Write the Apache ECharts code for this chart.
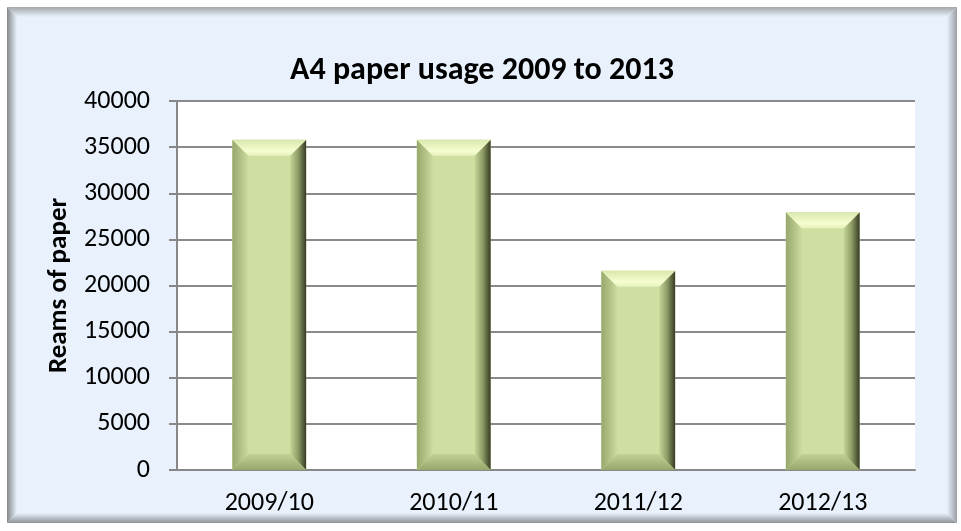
<!DOCTYPE html>
<html>
<head>
<meta charset="utf-8">
<script src="https://cdn.jsdelivr.net/npm/echarts@6/dist/echarts.min.js"></script>
<style>
    html, body { margin: 0; padding: 0; background: #fff; }
    #paper_chart { width: 961px; height: 531px; }
</style>
</head>
<body>
<div id="paper_chart"></div>
<script>
const years = ['2009/10', '2010/11', '2011/12', '2012/13'];
const reams = [35800, 35800, 21600, 27950];
const yTicks = [0, 5000, 10000, 15000, 20000, 25000, 30000, 35000, 40000];

const chart = echarts.init(document.getElementById('paper_chart'));
const font = "Carlito, 'Liberation Sans Narrow', 'DejaVu Sans Condensed', sans-serif";
const grad = (x, y, x2, y2, a, b) => new echarts.graphic.LinearGradient(x, y, x2, y2, [
    {offset: 0, color: a}, {offset: 1, color: b}
]);

// bevelled bar, like the excel one
function renderBar(params, api) {
    const top = api.coord([api.value(0), api.value(1)]);
    const base = api.coord([api.value(0), 0]);
    const w = api.size([1, 0])[0] * 0.4;
    const x0 = top[0] - w / 2, x1 = x0 + w, y0 = top[1], y1 = base[1];
    const b = Math.min(16, (y1 - y0) / 2);
    return {
        type: 'group',
        children: [
            {type: 'rect', shape: {x: x0, y: y0, width: w, height: y1 - y0}, style: {fill: '#cfdfa2'}},
            {type: 'polygon', shape: {points: [[x0, y0], [x0 + b, y0 + b], [x0 + b, y1 - b], [x0, y1]]},
                style: {fill: grad(0, 0, 1, 0, '#98a76c', '#cbdc9e')}},
            {type: 'polygon', shape: {points: [[x1, y0], [x1, y1], [x1 - b, y1 - b], [x1 - b, y0 + b]]},
                style: {fill: new echarts.graphic.LinearGradient(0, 0, 1, 0, [
                    {offset: 0, color: '#c6d698'}, {offset: 0.5, color: '#8e9c66'}, {offset: 1, color: '#353b23'}
                ])}},
            {type: 'polygon', shape: {points: [[x0, y0], [x1, y0], [x1 - b, y0 + b], [x0 + b, y0 + b]]},
                style: {fill: new echarts.graphic.LinearGradient(0, 0, 0, 1, [
                    {offset: 0, color: '#d9e8ad'}, {offset: 0.7, color: '#f6fdd0'}, {offset: 1, color: '#e6f1bb'}
                ])}},
            {type: 'polygon', shape: {points: [[x0, y1], [x0 + b, y1 - b], [x1 - b, y1 - b], [x1, y1]]},
                style: {fill: grad(0, 0, 0, 1, '#c2d294', '#98a66c')}}
        ]
    };
}

const fx0 = 7, fy0 = 7, fx1 = 957, fy1 = 523, bv = 10;

const option = {
    animation: false,
    backgroundColor: '#fff',
    textStyle: {fontFamily: font},
    graphic: [
        {type: 'rect', z: -10, shape: {x: fx0, y: fy0, width: fx1 - fx0, height: fy1 - fy0}, style: {fill: '#e8f1fc'}},
        {type: 'polygon', z: -9, shape: {points: [[fx0, fy0], [fx1, fy0], [fx1 - bv, fy0 + bv], [fx0 + bv, fy0 + bv]]},
            style: {fill: grad(0, 0, 0, 1, '#a3a6aa', '#e8f1fc')}},
        {type: 'polygon', z: -9, shape: {points: [[fx0, fy0], [fx0 + bv, fy0 + bv], [fx0 + bv, fy1 - bv], [fx0, fy1]]},
            style: {fill: grad(0, 0, 1, 0, '#85888c', '#e8f1fc')}},
        {type: 'polygon', z: -9, shape: {points: [[fx1, fy0], [fx1, fy1], [fx1 - bv, fy1 - bv], [fx1 - bv, fy0 + bv]]},
            style: {fill: grad(0, 0, 1, 0, '#e8f1fc', '#9a9ea4')}},
        {type: 'polygon', z: -9, shape: {points: [[fx0, fy1], [fx0 + bv, fy1 - bv], [fx1 - bv, fy1 - bv], [fx1, fy1]]},
            style: {fill: grad(0, 0, 0, 1, '#e8f1fc', '#8e9298')}}
    ],
    title: {
        text: 'A4 paper usage 2009 to 2013',
        left: 477,
        textAlign: 'center',
        top: 50,
        textStyle: {fontFamily: font, fontSize: 32, fontWeight: 'bold', color: '#000'}
    },
    grid: {
        left: 177,
        right: 46,
        top: 101,
        bottom: 61,
        show: true,
        backgroundColor: '#fff',
        borderWidth: 0
    },
    xAxis: {
        type: 'category',
        data: years,
        axisLine: {lineStyle: {color: '#888', width: 2}},
        axisTick: {show: false},
        axisLabel: {color: '#000', fontSize: 26, margin: 20, fontFamily: font}
    },
    yAxis: {
        type: 'value',
        min: yTicks[0],
        max: yTicks[yTicks.length - 1],
        interval: yTicks[1] - yTicks[0],
        name: 'Reams of paper',
        nameLocation: 'middle',
        nameGap: 97,
        nameTextStyle: {fontFamily: font, fontSize: 27, fontWeight: 'bold', color: '#000'},
        axisLine: {show: true, lineStyle: {color: '#888', width: 2}},
        axisTick: {show: true, length: 8, lineStyle: {color: '#888', width: 2}},
        splitLine: {lineStyle: {color: '#8a8a8a', width: 2}},
        axisLabel: {
            color: '#000', fontSize: 26, margin: 27, fontFamily: font,
            formatter: v => String(v)
        }
    },
    series: [{
        type: 'custom',
        renderItem: renderBar,
        data: reams.map((v, i) => [i, v]),
        encode: {x: 0, y: 1}
    }]
};

chart.setOption(option);
</script>
</body>
</html>
